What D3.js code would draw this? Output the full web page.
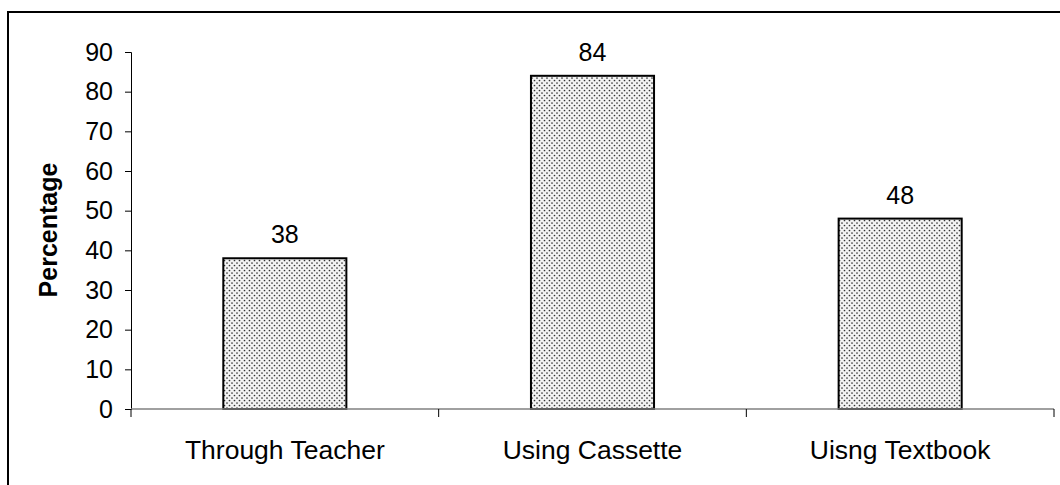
<!DOCTYPE html>
<html>
<head>
<meta charset="utf-8">
<script src="https://cdn.jsdelivr.net/npm/d3@7"></script>
<style>
  body { margin: 0; background: #fff; }
  svg text { font-family: "Liberation Sans", Arial, sans-serif; }
</style>
</head>
<body>
<div id="chart"></div>
<script>
const categories = ["Through Teacher", "Using Cassette", "Uisng Textbook"];
const values = [38, 84, 48];
const yTicks = [0, 10, 20, 30, 40, 50, 60, 70, 80, 90];

const svgWidth = 1060, svgHeight = 485;
const margin = { top: 52, right: 6, bottom: 76, left: 131 };
const width = svgWidth - margin.left - margin.right;
const height = svgHeight - margin.top - margin.bottom;

const root = d3.select("#chart").append("svg")
  .attr("width", svgWidth)
  .attr("height", svgHeight);

// dotted fill like the old excel pattern
const pat = root.append("defs").append("pattern")
  .attr("id", "dots")
  .attr("patternUnits", "userSpaceOnUse")
  .attr("width", 5).attr("height", 5);
pat.append("rect").attr("width", 5).attr("height", 5).attr("fill", "#f2f2f2");
pat.append("circle").attr("cx", 1).attr("cy", 1).attr("r", 0.85).attr("fill", "#333");
pat.append("circle").attr("cx", 3.5).attr("cy", 3.5).attr("r", 0.85).attr("fill", "#333");

// outer frame, runs off right/bottom
root.append("rect")
  .attr("x", 8).attr("y", 12)
  .attr("width", 1070).attr("height", 500)
  .attr("fill", "none").attr("stroke", "#000").attr("stroke-width", 2);

const svg = root.append("g")
  .attr("transform", `translate(${margin.left},${margin.top})`);

const xScale = d3.scaleBand()
  .domain(categories)
  .range([0, width])
  .paddingInner(0.6)
  .paddingOuter(0.3);

const yScale = d3.scaleLinear()
  .domain([0, 90])
  .range([height, 0]);

svg.selectAll(".bar")
  .data(values)
  .enter().append("rect")
  .attr("class", "bar")
  .attr("x", (d, i) => xScale(categories[i]))
  .attr("y", d => yScale(d))
  .attr("width", xScale.bandwidth())
  .attr("height", d => height - yScale(d))
  .attr("fill", "url(#dots)")
  .attr("stroke", "#000")
  .attr("stroke-width", 2);

svg.selectAll(".val")
  .data(values)
  .enter().append("text")
  .attr("class", "val")
  .attr("x", (d, i) => xScale(categories[i]) + xScale.bandwidth() / 2)
  .attr("y", d => yScale(d) - 15)
  .attr("text-anchor", "middle")
  .attr("font-size", 25)
  .text(d => d);

// y axis
const yAxis = svg.append("g")
  .call(d3.axisLeft(yScale).tickValues(yTicks).tickSize(6).tickPadding(12));
yAxis.select(".domain").attr("stroke", "#000");
yAxis.selectAll(".tick line").attr("stroke", "#000");
yAxis.selectAll(".tick text").attr("font-size", 25).attr("fill", "#000");

// x axis, ticks at category boundaries
const step = xScale.step();
const xAxis = svg.append("g")
  .attr("transform", `translate(0,${height})`);
xAxis.append("line")
  .attr("x1", 0).attr("x2", width)
  .attr("stroke", "#808080").attr("stroke-width", 1.5);
xAxis.selectAll(".bnd")
  .data(d3.range(categories.length + 1))
  .enter().append("line")
  .attr("x1", i => i * step).attr("x2", i => i * step)
  .attr("y1", 0).attr("y2", 8)
  .attr("stroke", "#000");
xAxis.selectAll(".lab")
  .data(categories)
  .enter().append("text")
  .attr("x", d => xScale(d) + xScale.bandwidth() / 2)
  .attr("y", 50)
  .attr("text-anchor", "middle")
  .attr("font-size", 26.5)
  .text(d => d);

root.append("text")
  .attr("transform", "translate(57,230) rotate(-90)")
  .attr("text-anchor", "middle")
  .attr("font-size", 25)
  .attr("font-weight", "bold")
  .text("Percentage");
</script>
</body>
</html>
